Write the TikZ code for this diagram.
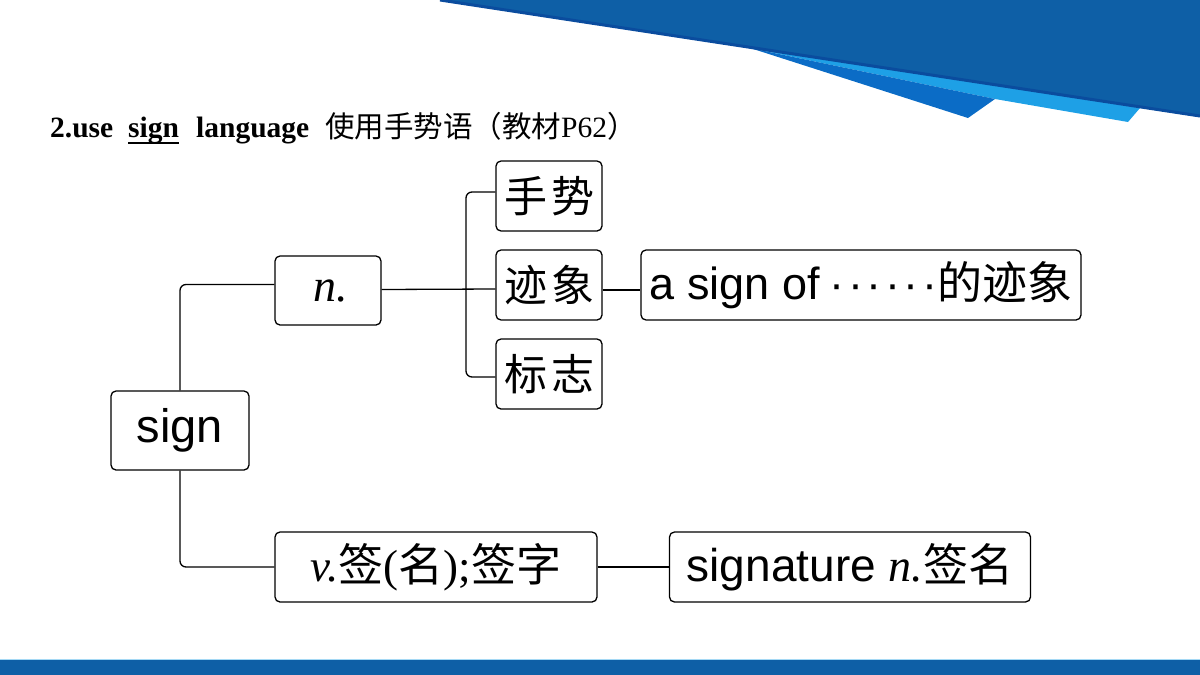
\documentclass[tikz,border=0pt]{standalone}
\usepackage{fontspec}
\setmainfont{Liberation Serif}
\setsansfont{Liberation Sans}
\newfontfamily\cjk{Noto Sans CJK SC}
\usepackage{xcolor}
\usetikzlibrary{positioning,calc}

\definecolor{bandblue}{HTML}{0E5FA6}
\definecolor{edgeblue}{HTML}{0A4C9E}
\definecolor{skyblue}{HTML}{1EA0E6}
\definecolor{midblue}{HTML}{0B6CC6}

\newcommand\middot{·\hspace{3.5pt}}

\begin{document}
\begin{tikzpicture}[
  x=1pt, y=-1pt,
  box/.style={draw, rounded corners=5pt, line width=1.3pt, inner sep=0pt,
              align=center, font=\sffamily\fontsize{45}{48}\selectfont},
  hanzi/.style={box, minimum width=106, minimum height=70, font=\cjk\fontsize{43}{46}\selectfont},
  conn/.style={line width=1.3pt, rounded corners=6pt},
  ttl/.style={anchor=base west, inner sep=0pt, font=\bfseries\fontsize{29.5}{32}\selectfont}
]
\useasboundingbox (0,0) rectangle (1200,675);

% header swoosh and footer bar
\fill[skyblue] (700,40) -- (1140,108) -- (1128,122) -- (995,99) -- (750,48) -- cycle;
\fill[midblue] (750,48) -- (995,99) -- (968,118) -- cycle;
\fill[bandblue] (440,0) -- (1200,0) -- (1200,117) -- cycle;
\draw[edgeblue, line width=3pt] (440,0) -- (1200,116);
\fill[bandblue] (0,660) rectangle (1200,675);
\draw[skyblue!40, line width=1pt] (0,659.5) -- (1200,659.5);

% title
\node[ttl] (t1) at (50,137) {2.use};
\node[ttl] (t2) at (128,137) {sign};
\node[ttl] (t3) at (196,137) {language};
\node[anchor=base west, inner sep=0pt, font=\fontsize{29.5}{32}\selectfont] (t4) at (325,137)
  {{\cjk 使用手势语（教材}P62{\cjk ）}};
\draw[line width=1.5pt] ($(t2.base west)+(0,6)$) -- ($(t2.base east)+(0,6)$);

% nodes
\node[box, minimum width=138, minimum height=79, font=\sffamily\fontsize{47}{50}\selectfont] (sign) at (180,430.5) {sign};
\node[box, minimum width=106, minimum height=69, font=\fontsize{46}{48}\selectfont] (nn) at (328,290.5) {\hspace{6pt}\textit{n.}};
\node[hanzi] (shoushi) at (549,196) {手\hspace{4pt}势};
\node[hanzi] (jixiang) at (549,285) {迹\hspace{4pt}象};
\node[hanzi] (biaozhi) at (549,374) {标\hspace{4pt}志};
\node[box, minimum width=440, minimum height=70] (signof) at (861,285)
  {a sign of\hspace{10pt}\middot\middot\middot\middot\middot·{\cjk\fontsize{45}{48}\selectfont 的迹象}};
\node[box, minimum width=322, minimum height=70, font=\fontsize{45}{48}\selectfont] (verb) at (436,567)
  {\textit{v.}{\cjk 签}({\cjk 名});{\cjk 签字}};
\node[box, minimum width=361, minimum height=70, font=\sffamily\fontsize{46}{48}\selectfont] (sigture) at (850,567)
  {signature {\rmfamily\textit{n.}}{\cjk\fontsize{45}{48}\selectfont 签名}};

% connectors
\coordinate (brk) at (466,289);
\draw[conn] (sign.north) |- ([yshift=6pt]nn.west);
\draw[conn] (sign.south) |- (verb.west);
\draw[conn] ([yshift=1pt]nn.east) -- ([yshift=-4pt]jixiang.west);
\draw[conn] ([yshift=4pt]shoushi.west) -| (brk) |- ([yshift=-3pt]biaozhi.west);
\draw[conn] ([yshift=-5pt]jixiang.east) -- ([yshift=-5pt]signof.west);
\draw[conn] (verb.east) -- (sigture.west);
\end{tikzpicture}
\end{document}
